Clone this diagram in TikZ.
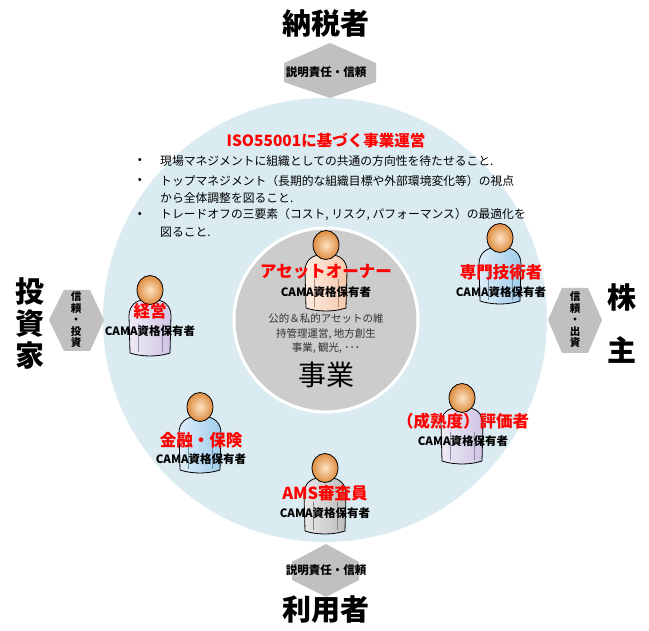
\documentclass[tikz,border=0pt]{standalone}
\usepackage{fontspec}
\setmainfont{Noto Sans CJK JP}
\usetikzlibrary{shapes,arrows}

\definecolor{ringblue}{RGB}{218,236,242}
\definecolor{coregray}{RGB}{204,204,204}
\definecolor{arrowgray}{RGB}{192,192,192}
\definecolor{skinlight}{RGB}{252,226,196}
\definecolor{skin}{RGB}{222,140,64}
\definecolor{lilac}{RGB}{206,197,228}
\definecolor{skyblue}{RGB}{158,204,236}
\definecolor{suitgray}{RGB}{188,188,188}
\definecolor{peach}{RGB}{246,200,170}
\definecolor{rolered}{RGB}{255,0,0}
\definecolor{bodytext}{RGB}{50,50,50}

\tikzstyle{party} = [font=\fontsize{29}{33}\selectfont\bfseries, inner sep=0pt, align=center]
\tikzstyle{duty} = [font=\fontsize{11.5}{12}\selectfont\bfseries, inner sep=0pt, align=center]
\tikzstyle{role} = [font=\fontsize{16.5}{18}\selectfont\bfseries, text=rolered, inner sep=0pt]
\tikzstyle{cama} = [font=\fontsize{11.5}{12}\selectfont\bfseries, inner sep=0pt]
\tikzstyle{item} = [font=\fontsize{11.8}{14}\selectfont, inner sep=0pt, anchor=west]
\tikzstyle{twoway} = [fill=arrowgray]

\tikzset{
  pics/person/.style={code={
    \draw[line width=0.8pt, left color=#1!35!white, right color=#1]
      (-20,63) -- (-21,26) .. controls (-21,15) and (-13,10) .. (-6,10)
      -- (6,10) .. controls (13,10) and (21,15) .. (21,26) -- (20,63)
      .. controls (8,67) and (-8,67) .. (-20,63) -- cycle;
    \draw[#1!70!black, line width=0.4pt] (-12,34) -- (-12,62) (12,34) -- (12,62);
    \draw[line width=0.8pt, inner color=skinlight, outer color=skin] (0,0) ellipse (13pt and 14.5pt);
  }}
}

\begin{document}
\begin{tikzpicture}[x=1pt, y=-1pt, node distance=20pt]
    \fill[white] (0,0) rectangle (649,631);
    \useasboundingbox (0,0) rectangle (649,631);
    % Rings
    \fill[ringblue] (325,320) circle (222pt);
    \filldraw[fill=coregray, draw=white, line width=3pt] (326,320) circle (92pt);
    % Two-way arrows
    \fill[twoway] (330,43) -- (376,63) -- (376,82) -- (330,98) -- (284,82) -- (284,63) -- cycle;
    \fill[twoway] (326,544) -- (359,562) -- (359,580) -- (326,597) -- (292,580) -- (292,562) -- cycle;
    \fill[twoway] (49,320) -- (64,290) -- (90,290) -- (104,320) -- (90,351) -- (64,351) -- cycle;
    \fill[twoway] (548,320) -- (562,288) -- (588,288) -- (602,320) -- (588,353) -- (562,353) -- cycle;
    % Outside parties
    \node[party] (taxpayer) at (326,23) {納税者};
    \node[party] (user) at (326,610) {利用者};
    \node[party, font=\fontsize{29}{32}\selectfont\bfseries] (investor) at (30,324) {投\\資\\家};
    \node[party] (share) at (622,297) {株};
    \node[party] (holder) at (622,350) {主};
    \node[duty] (topduty) at (326,72) {説明責任・信頼};
    \node[duty] (botduty) at (326,570) {説明責任・信頼};
    \node[duty, font=\fontsize{10.5}{11.5}\selectfont\bfseries] (invduty) at (76,320) {信\\頼\\・\\投\\資};
    \node[duty, font=\fontsize{10.5}{11.5}\selectfont\bfseries] (shrduty) at (575,320) {信\\頼\\・\\出\\資};
    % Management policy
    \node[role, font=\fontsize{15.5}{17}\selectfont\bfseries] (policy) at (326,141) {ISO55001に基づく事業運営};
    \node[item, anchor=center] (dot1) at (140,161) {•};
    \node[item, anchor=center] (dot2) at (140,181) {•};
    \node[item, anchor=center] (dot3) at (140,215) {•};
    \node[item] (line1) at (160,161) {現場マネジメントに組織としての共通の方向性を待たせること.};
    \node[item] (line2) at (160,181) {トップマネジメント（長期的な組織目標や外部環境変化等）の視点};
    \node[item] (line3) at (160,198) {から全体調整を図ること.};
    \node[item] (line4) at (160,215) {トレードオフの三要素（コスト, リスク, パフォーマンス）の最適化を};
    \node[item] (line5) at (160,232) {図ること.};
    % People
    \pic at (326,245) {person=peach};
    \pic at (150,290) {person=lilac};
    \pic at (500,238) {person=skyblue};
    \pic at (200,407) {person=skyblue};
    \pic at (462,398) {person=lilac};
    \pic at (325,468) {person=suitgray};
    % Roles
    \node[role] (owner) at (326,272) {アセットオーナー};
    \node[cama, below of=owner] (ownercama) {CAMA資格保有者};
    \node[role] (exec) at (150,311) {経営};
    \node[cama, below of=exec] (execcama) {CAMA資格保有者};
    \node[role] (expert) at (501,272) {専門技術者};
    \node[cama, below of=expert] (expertcama) {CAMA資格保有者};
    \node[role] (finance) at (201,440) {金融・保険};
    \node[cama, below of=finance, node distance=19pt] (financecama) {CAMA資格保有者};
    \node[role] (assessor) at (463,421) {（成熟度）評価者};
    \node[cama, below of=assessor] (assessorcama) {CAMA資格保有者};
    \node[role] (auditor) at (325,493) {AMS審査員};
    \node[cama, below of=auditor] (auditorcama) {CAMA資格保有者};
    % Core business
    \node[font=\fontsize{10.5}{14.5}\selectfont, text=bodytext, align=center, inner sep=0pt] (scope) at (326,334)
        {公的＆私的アセットの維\\持管理運営, 地方創生\\事業, 観光, ･･･};
    \node[font=\fontsize{28}{30}\selectfont, inner sep=0pt] (business) at (326,375) {事業};
\end{tikzpicture}
\end{document}
